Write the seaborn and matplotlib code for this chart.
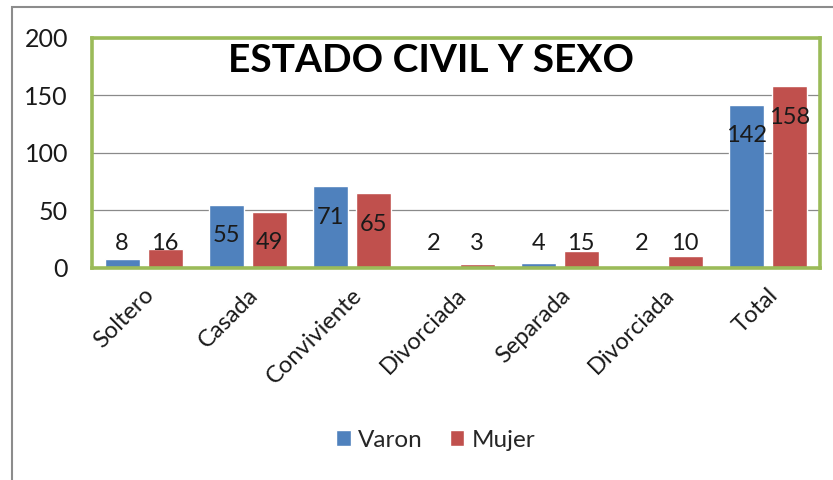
import numpy as np
import pandas as pd
import seaborn as sns
import matplotlib.pyplot as plt
from matplotlib.patches import Rectangle

# datos del grafico
categorias = ['Soltero', 'Casada', 'Conviviente', 'Divorciada', 'Separada', 'Divorciada', 'Total']
varon = [8, 55, 71, 2, 4, 2, 142]
mujer = [16, 49, 65, 3, 15, 10, 158]
series = ['Varon', 'Mujer']
colores = ['#4F81BD', '#C0504D']

sns.set_theme(style='white')
plt.rcParams['font.family'] = ['Lato', 'DejaVu Sans']

# formato largo; posicion numerica porque "Divorciada" se repite
df = pd.DataFrame({
    'pos': list(range(len(categorias))) * 2,
    'sexo': ['Varon'] * len(varon) + ['Mujer'] * len(mujer),
    'valor': varon + mujer,
})

fig = plt.figure(figsize=(8.33, 4.8), dpi=100)
ax = fig.add_axes([0.110, 0.442, 0.874, 0.479])

sns.barplot(data=df, x='pos', y='valor', hue='sexo', hue_order=series,
            palette=colores, width=0.83, gap=0.19, saturation=1, ax=ax)

ax.set_ylim(0, 200)
ax.set_yticks(range(0, 201, 50))
ax.set_xticks(range(len(categorias)))
ax.set_xticklabels(categorias, rotation=45, ha='right', rotation_mode='anchor')
ax.set_xlabel('')
ax.set_ylabel('')
ax.tick_params(axis='both', length=0, colors='#1a1a1a')
ax.tick_params(axis='y', pad=17, labelsize=18)
ax.tick_params(axis='x', pad=12, labelsize=17)
ax.yaxis.grid(True, color='#8a8a8a', lw=0.9)
ax.set_axisbelow(True)
for s in ax.spines.values():
    s.set_color('#9BBB59')
    s.set_linewidth(2.6)

# etiquetas de datos
for cont in ax.containers:
    for p in cont:
        v = p.get_height()
        y = max(v - 27, 21)
        ax.text(p.get_x() + p.get_width() / 2, y, f'{int(v)}', ha='center', va='center',
                fontsize=17, color='#1a1a1a')

# leyenda abajo
h, l = ax.get_legend_handles_labels()
ax.legend_.remove()
fig.legend(h, l, loc='center', bbox_to_anchor=(0.523, 0.083), ncol=2, frameon=False,
           fontsize=17.5, handlelength=0.6, handleheight=0.6, handletextpad=0.3,
           columnspacing=1.1)

fig.text(0.517, 0.875, 'ESTADO CIVIL Y SEXO', ha='center', va='center',
         fontsize=28, fontweight='bold', color='black')

# marco exterior del grafico
fig.add_artist(Rectangle((12 / 833, -0.1), 2, 0.985 + 0.1, transform=fig.transFigure,
                         fill=False, edgecolor='#8c8c8c', lw=1.5, clip_on=False))

fig.savefig('out.png', dpi=100)
